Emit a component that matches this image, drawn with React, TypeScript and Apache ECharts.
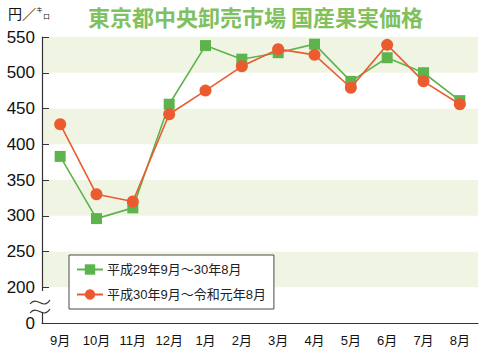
import React, { useEffect, useRef } from "react";
import * as echarts from "echarts";

const months = ["9月", "10月", "11月", "12月", "1月", "2月", "3月", "4月", "5月", "6月", "7月", "8月"];
const seriesNames = ["平成29年9月～30年8月", "平成30年9月～令和元年8月"];
const prevYear = [383, 296, 311, 456, 538, 519, 528, 540, 488, 521, 500, 461];
const thisYear = [428, 330, 320, 442, 475, 509, 533, 525, 479, 539, 488, 456];
const yMin = 150; // drawn as "0" (broken axis)
const yMax = 550;
const yStep = 50;
const titleText = "東京都中央卸売市場 国産果実価格";

const FONT = "'Liberation Sans', Arial, 'Noto Sans CJK JP', sans-serif";
const GREEN = "#5db44c";
const RED = "#ec5a30";

export default function App() {
  const ref = useRef<HTMLDivElement>(null);
  useEffect(() => {
    const chart = echarts.init(ref.current!, undefined, { renderer: "svg" });
    chart.setOption({
      animation: false,
      backgroundColor: "#ffffff",
      grid: { left: 42, right: 2, top: 37, bottom: 30 },
      title: {
        text: titleText,
        left: 88,
        top: 3,
        padding: 0,
        textStyle: { fontFamily: "'Noto Sans CJK JP'", fontSize: 22, fontWeight: "bold", color: "#80c05e", lineHeight: 26 },
      },
      legend: {
        orient: "vertical",
        left: 69,
        top: 255,
        padding: [8, 8, 8, 7],
        itemGap: 12,
        itemWidth: 26,
        itemHeight: 13,
        backgroundColor: "#ffffff",
        borderColor: "#4a4a4a",
        borderWidth: 1,
        borderRadius: 0,
        textStyle: { fontFamily: FONT, fontSize: 13, color: "#222", padding: [0, 0, 0, -1] },
        data: seriesNames,
      },
      xAxis: {
        type: "category",
        data: months,
        boundaryGap: true,
        axisLine: { lineStyle: { color: "#333", width: 1.2 } },
        axisTick: { alignWithLabel: true, inside: true, length: 5, lineStyle: { color: "#333" } },
        axisLabel: { fontFamily: FONT, fontSize: 13, color: "#111", margin: 11 },
      },
      yAxis: {
        type: "value",
        min: yMin,
        max: yMax,
        interval: yStep,
        axisLine: { show: true, lineStyle: { color: "#333", width: 1.2 } },
        axisTick: { show: true, inside: true, length: 7, lineStyle: { color: "#333" } },
        axisLabel: {
          fontFamily: FONT,
          fontSize: 17,
          color: "#111",
          margin: 7,
          formatter: (v: number) => (v === yMin ? "0" : String(v)),
        },
        splitLine: { show: false },
        splitArea: { show: true, areaStyle: { color: ["#ffffff", "#f0f5e3"] } },
      },
      graphic: [
        {
          type: "text",
          left: 8,
          top: 5,
          style: {
            text: "{a|円／}{b|キ}{c|ロ}",
            rich: {
              a: { fontFamily: "'Noto Sans CJK JP'", fontSize: 14, fill: "#111" },
              b: { fontFamily: "'Noto Sans CJK JP'", fontSize: 7, fill: "#111", verticalAlign: "top", padding: [0, 0, 8, 0] },
              c: { fontFamily: "'Noto Sans CJK JP'", fontSize: 7, fill: "#111", verticalAlign: "bottom" },
            },
          },
        },
        { type: "rect", shape: { x: 36, y: 291, width: 14, height: 21 }, style: { fill: "#ffffff" }, z: 100 },
        {
          type: "bezierCurve",
          shape: { x1: 30, y1: 304, cpx1: 37, cpy1: 295, cpx2: 43, cpy2: 311, x2: 50, y2: 300 },
          style: { stroke: "#333", lineWidth: 1.1, fill: "none" },
          z: 101,
        },
        {
          type: "bezierCurve",
          shape: { x1: 30, y1: 313, cpx1: 37, cpy1: 304, cpx2: 43, cpy2: 320, x2: 50, y2: 309 },
          style: { stroke: "#333", lineWidth: 1.1, fill: "none" },
          z: 101,
        },
      ],
      series: [
        {
          name: seriesNames[0],
          type: "line",
          data: prevYear,
          symbol: "rect",
          symbolSize: 11,
          itemStyle: { color: GREEN },
          lineStyle: { color: GREEN, width: 1.6 },
          z: 3,
        },
        {
          name: seriesNames[1],
          type: "line",
          data: thisYear,
          symbol: "circle",
          symbolSize: 12,
          itemStyle: { color: RED },
          lineStyle: { color: RED, width: 1.6 },
          z: 4,
        },
      ],
    });
    return () => chart.dispose();
  }, []);
  return <div ref={ref} style={{ width: 480, height: 353, position: "absolute", left: 0, top: 0 }} />;
}
